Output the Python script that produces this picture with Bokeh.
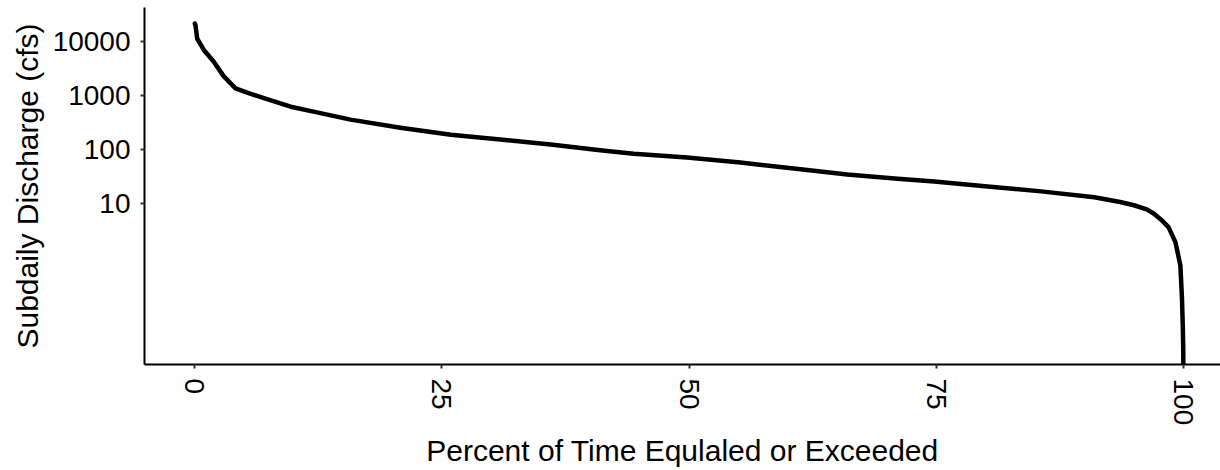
from bokeh.plotting import figure
from bokeh.models import Range1d, FixedTicker, PrintfTickFormatter
from bokeh.embed import file_html
from bokeh.resources import INLINE

# Flow duration curve: percent of time a discharge is equaled or exceeded
percent_exceeded = [0, 0.07, 0.24, 0.91, 1.92, 2.93, 4.12, 5.3, 7.3, 9.7, 12.0,
                    15.75, 20.8, 25.9, 30.9, 36.0, 41.0, 44.4, 49.8, 55.2, 60.6,
                    66.0, 71.1, 74.8, 80.2, 85.6, 91.0, 93.6, 95.0, 96.3, 97.0,
                    97.7, 98.5, 99.2, 99.7, 99.86, 99.95, 99.99, 100]
discharge_cfs = [21800, 20400, 11500, 7100, 4300, 2300, 1380, 1150, 870, 630, 510,
                 363, 257, 190, 155, 126, 98, 85, 72, 58, 45,
                 35, 29, 26, 21, 17, 13.2, 10.8, 9.4, 7.9, 6.6,
                 5.2, 3.7, 1.95, 0.72, 0.18, 0.05, 0.021, 0.01]

x_ticks = [0, 25, 50, 75, 100]
y_ticks = [10, 100, 1000, 10000]

FONT = "Liberation Sans"

p = figure(width=1220, height=470, y_axis_type="log",
           x_range=Range1d(-5.09, 103.76), y_range=Range1d(0.01052, 43450),
           output_backend="svg", toolbar_location=None,
           min_border_left=144, min_border_right=0,
           min_border_top=7, min_border_bottom=103)

p.line(percent_exceeded, discharge_cfs, line_color="black", line_width=4.5,
       line_join="round", line_cap="round")

p.outline_line_color = None
p.xgrid.visible = False
p.ygrid.visible = False
p.background_fill_color = "white"
p.border_fill_color = "white"

p.xaxis.ticker = FixedTicker(ticks=x_ticks, minor_ticks=[])
p.yaxis.ticker = FixedTicker(ticks=y_ticks, minor_ticks=[])
p.yaxis.formatter = PrintfTickFormatter(format="%d")
p.xaxis.major_label_orientation = "vertical"

p.xaxis.axis_label = "Percent of Time Equlaled or Exceeded"
p.yaxis.axis_label = "Subdaily Discharge (cfs)"

for ax in (p.xaxis, p.yaxis):
    ax.axis_line_color = "black"
    ax.axis_line_width = 2
    ax.major_tick_line_color = "#333333"
    ax.major_tick_line_width = 2
    ax.major_tick_in = 0
    ax.major_tick_out = 4
    ax.minor_tick_line_color = None
    ax.major_label_text_font = FONT
    ax.major_label_text_font_size = "28px"
    ax.major_label_text_color = "black"
    ax.major_label_standoff = 10
    ax.axis_label_text_font = FONT
    ax.axis_label_text_font_size = "30px"
    ax.axis_label_text_font_style = "normal"
    ax.axis_label_text_color = "black"
    ax.axis_label_standoff = 6

open("out.html", "w").write(file_html(p, INLINE))
